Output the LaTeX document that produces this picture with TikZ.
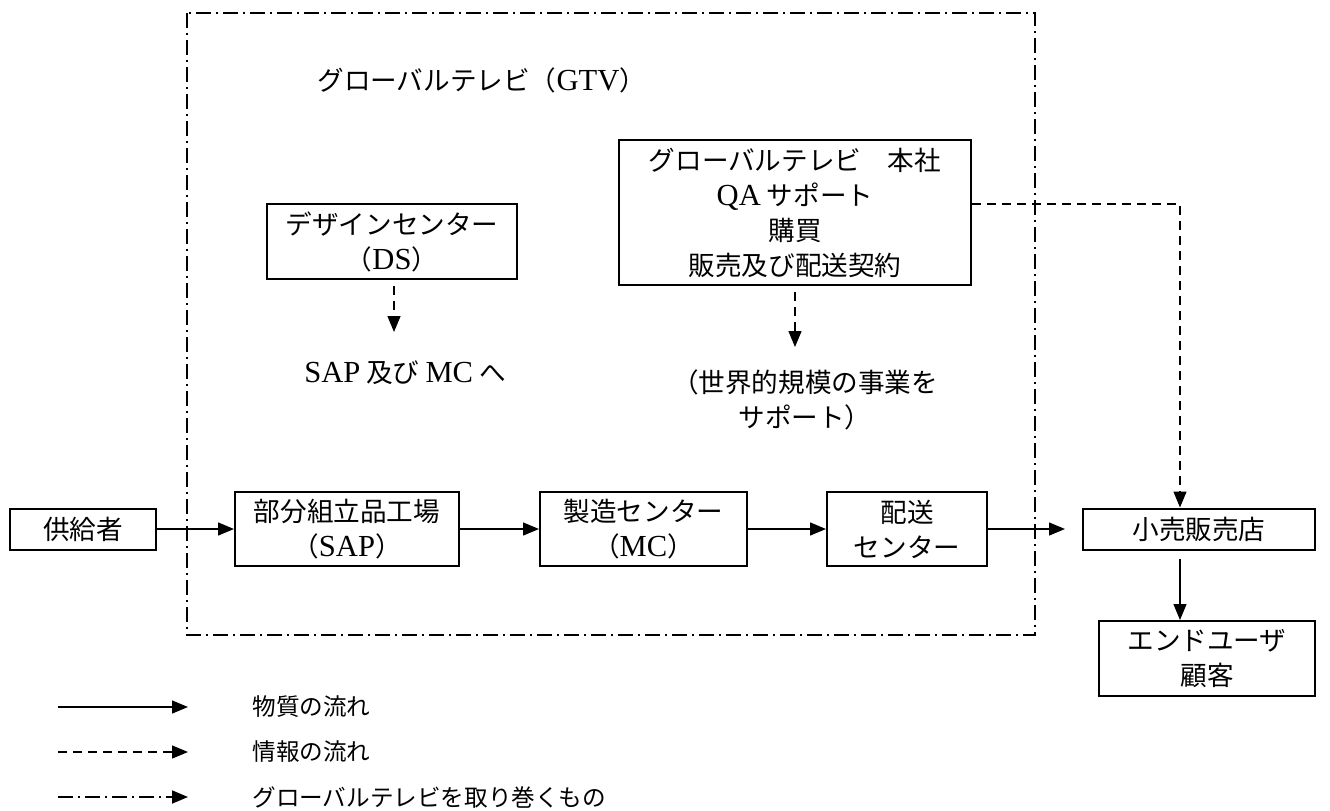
\documentclass[tikz,border=0pt]{standalone}
\usepackage{fontspec}
\setmainfont{Noto Sans CJK JP}
\newfontfamily\mylatf{Liberation Serif}[Scale=1.15]
\newcommand{\mylat}[1]{{\mylatf #1}}
\usetikzlibrary{arrows.meta,calc}
\begin{document}
\begin{tikzpicture}[x=0.5pt,y=-0.5pt,
  box/.style={draw, line width=1pt, align=center, inner sep=0pt,
    font=\fontsize{13.3pt}{17.5pt}\selectfont},
  wh/.style 2 args={minimum width=#1*0.5pt, minimum height=#2*0.5pt},
  txt/.style={align=center, inner sep=0pt, font=\fontsize{13.3pt}{17.5pt}\selectfont},
  legtxt/.style={inner sep=0pt, anchor=west, font=\fontsize{11.8pt}{14pt}\selectfont},
  flow/.style={line width=0.7pt, -{Triangle[length=8pt,width=6.5pt]}},
  info/.style={flow, dash pattern=on 4.5pt off 3pt},
  bound/.style={line width=0.9pt, dash pattern=on 7.5pt off 2.5pt on 1pt off 2.5pt},
  boundarrow/.style={bound, -{Triangle[length=8pt,width=6.5pt]}}
]
\useasboundingbox (0,0) rectangle (1330,810);

% boundary of Global TV
\draw[bound] (187,13) rectangle (1035,635);
\node[txt, anchor=west] (title) at (317,80) {グローバルテレビ（\mylat{GTV}）};

% boxes
\node[box, wh={146}{41}] (sup) at (83,529) {供給者};
\node[box, wh={224}{74}] (sap) at (347,529) {部分組立品工場\\（\mylat{SAP}）};
\node[box, wh={207}{74}] (mc) at (643.5,529) {製造センター\\（\mylat{MC}）};
\node[box, wh={160}{74}] (del) at (907,529) {配送\\センター};
\node[box, wh={232}{41}] (ret) at (1199,529) {小売販売店};
\node[box, wh={216}{75}] (eu) at (1207,658.5) {エンドユーザ\\顧客};
\node[box, wh={250}{75}] (ds) at (392,241.5) {デザインセンター\\（\mylat{DS}）};
\node[box, wh={352}{145}] (hq) at (795,212.5) {グローバルテレビ　本社\\\mylat{QA} サポート\\購買\\販売及び配送契約};

% notes
\node[txt] (dsnote) at (405,373) {\mylat{SAP} 及び \mylat{MC} へ};
\node[txt] (hqnote) at (805,400) {（世界的規模の事業を\\サポート）};

% material flow
\draw[flow] (sup) -- (sap);
\draw[flow] (sap) -- (mc);
\draw[flow] (mc) -- (del);
\draw[flow, shorten >=8.5pt] (del) -- (ret);
\coordinate (corner) at (1180,204);
\draw[flow, shorten <=4pt] (corner |- ret.south) -- (corner |- eu.north);

% information flow
\draw[info] (hq.east |- corner) -- (corner) -- (corner |- ret.north);
\coordinate (dstip) at (394,332);
\draw[info, shorten <=3pt] (ds.south -| dstip) -- (dstip);
\coordinate (hqtip) at (795,347);
\draw[info, shorten <=3pt] (hq.south) -- (hqtip);

% legend
\coordinate (ls1) at (58,707); \coordinate (le1) at (188,707);
\coordinate (ls2) at (58,752); \coordinate (le2) at (188,752);
\coordinate (ls3) at (58,797); \coordinate (le3) at (188,797);
\draw[flow] (ls1) -- (le1);
\draw[info] (ls2) -- (le2);
\draw[boundarrow] (ls3) -- (le3);
\node[legtxt] (lt1) at (252,707) {物質の流れ};
\node[legtxt] (lt2) at (252,752) {情報の流れ};
\node[legtxt] (lt3) at (252,797) {グローバルテレビを取り巻くもの};
\end{tikzpicture}
\end{document}
